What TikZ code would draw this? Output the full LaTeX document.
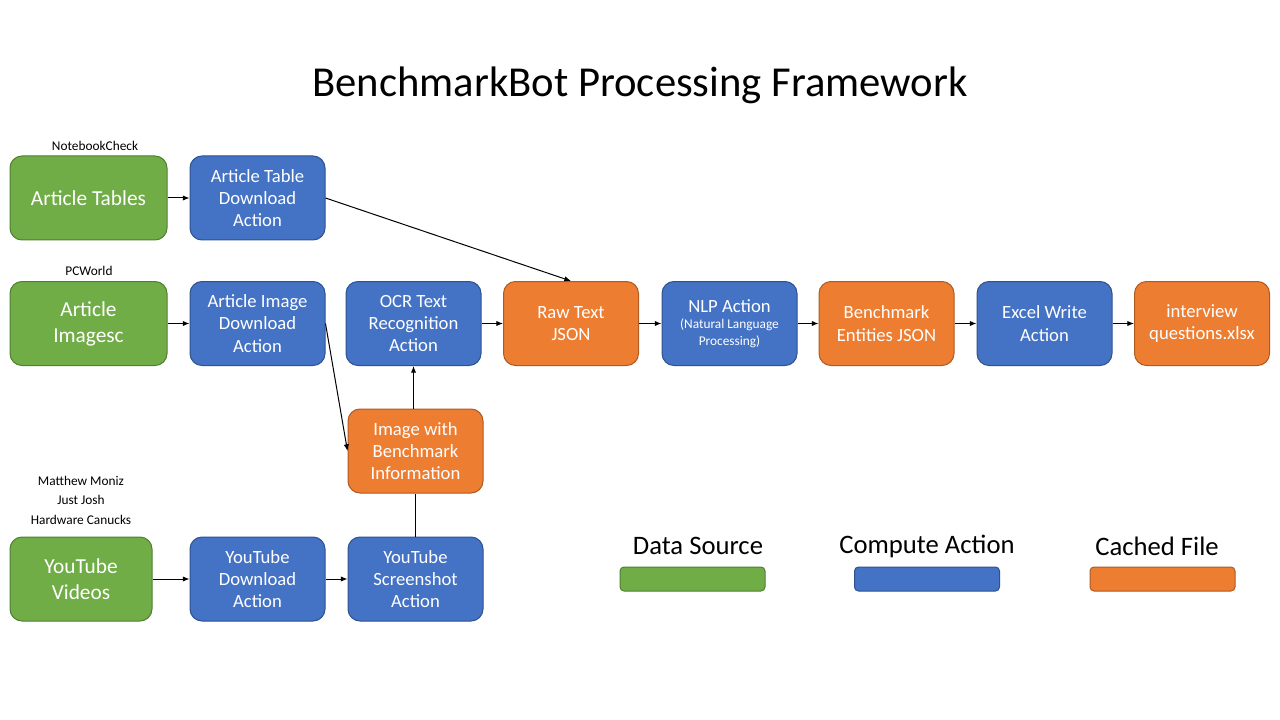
\documentclass[tikz,border=0pt]{standalone}
\usepackage{fontspec}
\setmainfont{Carlito}
\usetikzlibrary{arrows.meta}
\definecolor{gsrc}{HTML}{70AD47}
\definecolor{gsrcd}{HTML}{507E32}
\definecolor{bact}{HTML}{4472C4}
\definecolor{bactd}{HTML}{2F528F}
\definecolor{ofile}{HTML}{ED7D31}
\definecolor{ofiled}{HTML}{AE5A21}
\tikzset{
  boxbase/.style={rounded corners=9pt, draw, line width=0.75pt, align=center, text=white,
    minimum height=63pt, inner sep=0pt},
  srcbox/.style={boxbase, fill=gsrc, draw=gsrcd, font=\fontsize{16}{19.5}\selectfont},
  actbox/.style={boxbase, fill=bact, draw=bactd, minimum width=101.25pt, font=\fontsize{14}{16.8}\selectfont},
  filebox/.style={boxbase, fill=ofile, draw=ofiled, minimum width=101.25pt, font=\fontsize{14}{16.8}\selectfont},
  legbox/.style={rounded corners=3pt, draw, line width=0.75pt, minimum width=108.75pt, minimum height=18pt, inner sep=0pt},
  small/.style={font=\fontsize{10}{12}\selectfont, inner sep=0pt},
  legtext/.style={font=\fontsize{20}{24}\selectfont, inner sep=0pt},
  conn/.style={line width=0.75pt, -{Latex[length=5pt,width=4pt]}},
  plain/.style={line width=0.75pt}
}
\begin{document}
\begin{tikzpicture}[x=0.75pt,y=-0.75pt]
\useasboundingbox[fill=white] (0,0) rectangle (1280,720);

\node[font=\fontsize{32}{38}\selectfont, inner sep=0pt] (title) at (640,85) {BenchmarkBot Processing Framework};

% labels
\node[small] (lnbc) at (95,146) {NotebookCheck};
\node[small] (lpcw) at (89,271) {PCWorld};
\node[small] (lmm) at (81,481) {Matthew Moniz};
\node[small] (ljj) at (81,500) {Just Josh};
\node[small] (lhc) at (81,520) {Hardware Canucks};

% row 1
\node[srcbox, minimum width=117.75pt] (at) at (88.5,198) {Article Tables};
\node[actbox] (atd) at (257.5,198) {Article Table\\Download\\Action};

% row 2
\node[srcbox, minimum width=117.75pt] (ai) at (88.5,323.5) {Article\\Imagesc};
\node[actbox] (aid) at (257.5,323.5) {Article Image\\Download\\Action};
\node[actbox] (ocr) at (413.5,323.5) {OCR Text\\Recognition\\Action};
\node[filebox] (raw) at (571,323.5) {Raw Text\\JSON};
\node[actbox] (nlp) at (729.5,323.5) {NLP Action\\[-5pt]{\fontsize{10}{12}\selectfont (Natural Language}\\[-4pt]{\fontsize{10}{12}\selectfont Processing)}};
\node[filebox] (bej) at (886.5,323.5) {Benchmark\\Entities JSON};
\node[actbox] (exw) at (1044.5,323.5) {Excel Write\\Action};
\node[filebox] (iqx) at (1202,323.5) {interview\\questions.xlsx};

% image with benchmark
\node[filebox] (img) at (415.5,451) {Image with\\Benchmark\\Information};

% row 3
\node[srcbox, minimum width=106.5pt] (ytv) at (81,579) {YouTube\\Videos};
\node[actbox] (ytd) at (257.5,579) {YouTube\\Download\\Action};
\node[actbox] (yts) at (415.5,579) {YouTube\\Screenshot\\Action};

% legend
\node[legtext] (lds) at (698,546) {Data Source};
\node[legtext] (lca) at (927,546) {Compute Action};
\node[legtext] (lcf) at (1157,546) {Cached File};
\node[legbox, fill=gsrc, draw=gsrcd] (kds) at (692.5,579) {};
\node[legbox, fill=bact, draw=bactd] (kca) at (927,579) {};
\node[legbox, fill=ofile, draw=ofiled] (kcf) at (1162.5,579) {};

% connectors
\draw[conn] (at) -- (atd);
\draw[conn] (atd.east) -- (raw.north);
\draw[conn] (ai) -- (aid);
\draw[conn] (aid.east) -- (img.west);
\draw[conn] (ocr) -- (raw);
\draw[conn] (raw) -- (nlp);
\draw[conn] (nlp) -- (bej);
\draw[conn] (bej) -- (exw);
\draw[conn] (exw) -- (iqx);
\draw[conn] (img.north -| ocr.south) -- (ocr.south);
\draw[plain] (yts.north) -- (img.south);
\draw[conn] (ytv) -- (ytd);
\draw[conn] (ytd) -- (yts);
\end{tikzpicture}
\end{document}
